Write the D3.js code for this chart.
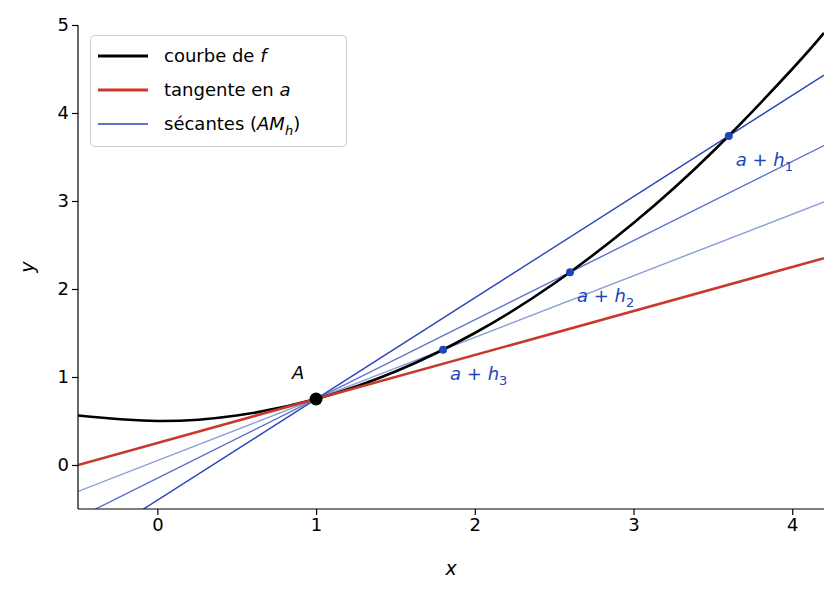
<!DOCTYPE html><html><head><meta charset="utf-8">
<script src="https://cdn.jsdelivr.net/npm/d3@7"></script>
<style>body{margin:0;background:#fff}text{font-family:"DejaVu Sans",sans-serif}</style></head><body>
<svg id="c" width="837" height="597"></svg>
<script>
const curveX=[-0.5,0,0.5,1,1.5,2,2.5,3,3.5,4,4.2];
const curveY=[0.5625,0.5,0.5625,0.75,1.0625,1.5,2.0625,2.75,3.5625,4.5,4.91];
const pointA=[1,0.75];
const tangentSlope=0.5;
const secPX=[3.6,2.6,1.8];
const secPY=[3.74,2.19,1.31];
const secLabels=["1","2","3"];
const secColors=["#2b46b8","#5a72c8","#8b9ddb"];
const xTicks=[0,1,2,3,4], yTicks=[0,1,2,3,4,5];
const svg=d3.select("#c");
const x=d3.scaleLinear([-0.5,4.2],[78,824]);
const y=d3.scaleLinear([-0.5,5],[509,25]);
svg.append("clipPath").attr("id","cl").append("rect").attr("x",78).attr("y",25).attr("width",746).attr("height",484);
const g=svg.append("g").attr("clip-path","url(#cl)");
const ln=(s,c,w)=>g.append("line").attr("x1",x(-0.5)).attr("y1",y(pointA[1]+s*(-0.5-pointA[0]))).attr("x2",x(4.2)).attr("y2",y(pointA[1]+s*(4.2-pointA[0]))).attr("stroke",c).attr("stroke-width",w);
secPX.forEach((px,i)=>ln((secPY[i]-pointA[1])/(px-pointA[0]),secColors[i],1.4));
g.append("path").attr("d",d3.line().x((d,i)=>x(curveX[i])).y(d=>y(d)).curve(d3.curveNatural)(curveY)).attr("fill","none").attr("stroke","#000").attr("stroke-width",2.6);
ln(tangentSlope,"#c8392b",2.6);
secPX.forEach((px,i)=>{svg.append("circle").attr("cx",x(px)).attr("cy",y(secPY[i])).attr("r",4).attr("fill","#2244bb");
 const t=svg.append("text").attr("x",x(px)+7).attr("y",y(secPY[i])+30).attr("fill","#2244bb").attr("font-size",18);
 t.append("tspan").attr("font-style","italic").text("a");t.append("tspan").text(" + ");t.append("tspan").attr("font-style","italic").text("h");t.append("tspan").attr("font-size",13).attr("dy",5).text(secLabels[i]);});
svg.append("circle").attr("cx",x(pointA[0])).attr("cy",y(pointA[1])).attr("r",6.5).attr("fill","#000");
svg.append("text").attr("x",x(pointA[0])-24).attr("y",y(pointA[1])-20).attr("font-size",18).attr("font-style","italic").text("A");
const xa=svg.append("g").attr("transform","translate(0,509)").call(d3.axisBottom(x).tickValues(xTicks).tickSize(6).tickFormat(d3.format("d")));
const ya=svg.append("g").attr("transform","translate(78,0)").call(d3.axisLeft(y).tickValues(yTicks).tickSize(6).tickFormat(d3.format("d")));
[xa,ya].forEach(a=>{a.selectAll("text").attr("font-size",18).attr("fill","#000");a.select(".domain").attr("stroke-width",1.2);a.selectAll("line").attr("stroke-width",1.2);});
ya.select(".domain").attr("d","M0,509V25");xa.select(".domain").attr("d","M78,0H824");
svg.append("text").attr("x",451).attr("y",575).attr("text-anchor","middle").attr("font-size",19).attr("font-style","italic").text("x");
svg.append("text").attr("transform","translate(34,267) rotate(-90)").attr("text-anchor","middle").attr("font-size",19).attr("font-style","italic").text("y");
const L=svg.append("g");
L.append("rect").attr("x",90.5).attr("y",35.5).attr("width",256).attr("height",111).attr("rx",4).attr("fill","#fff").attr("stroke","#ccc");
const items=[["courbe de ","f","","#000",3],["tangente en ","a","","#c8392b",3],["sécantes (","AM","h","#2b46b8",1.4]];
items.forEach((it,i)=>{const yy=56+i*34;
 L.append("line").attr("x1",98).attr("x2",148).attr("y1",yy).attr("y2",yy).attr("stroke",it[3]).attr("stroke-width",it[4]);
 const t=L.append("text").attr("x",164).attr("y",yy+6).attr("font-size",18);
 t.append("tspan").text(it[0]);t.append("tspan").attr("font-style","italic").text(it[1]);
 if(it[2]){t.append("tspan").attr("font-style","italic").attr("font-size",13).attr("dy",5).text(it[2]);t.append("tspan").attr("dy",-5).text(")");}});
</script></body></html>
